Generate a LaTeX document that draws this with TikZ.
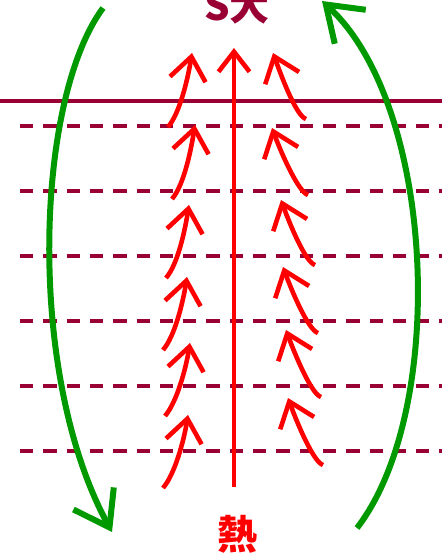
\documentclass[tikz,border=0pt]{standalone}
\usepackage{fontspec}
\newfontfamily\cjk{Noto Sans CJK JP}
\usetikzlibrary{arrows.meta}
\definecolor{layer}{RGB}{153,0,51}
\definecolor{loopgreen}{RGB}{0,153,0}
\tikzset{
  surface/.style={layer, line width=3.5pt},
  level/.style={layer, line width=3.3pt, dash pattern=on 13.3pt off 10pt},
  rise/.style={red, line width=4.6pt, -{Straight Barb[length=23pt,width=36pt]}},
  flow/.style={loopgreen, line width=6pt, -{Straight Barb[length=33pt,width=46pt]}},
  label/.style={inner sep=0pt, font=\cjk\bfseries\fontsize{40}{48}\selectfont}
}

\begin{document}
\begin{tikzpicture}[x=1pt, y=-1pt]
        \useasboundingbox (0,0) rectangle (442,556);

        \draw[surface] (0,101) -- (442,101);
        \draw[level] (20,126) -- (442,126);
        \draw[level] (20,191) -- (442,191);
        \draw[level] (20,256) -- (442,256);
        \draw[level] (20,321) -- (442,321);
        \draw[level] (20,386) -- (442,386);
        \draw[level] (20,451) -- (442,451);

        \node[label, layer, anchor=base] (entropy) at (237,21) {S大};
        \node[label, red] (heat) at (237.5,534) {熱};

        \coordinate (bottom) at (234,487);
        \coordinate (top) at (234,48);
        \draw[rise, -{Straight Barb[length=20pt,width=31pt]}] (bottom) -- (top);

        \draw[rise] (168,127) .. controls +(12,-14) and +(-4,25) .. (192,53);
        \draw[rise] (172,199) .. controls +(12,-14) and +(-4,25) .. (195,125);
        \draw[rise] (166,278) .. controls +(12,-14) and +(-4,25) .. (189,205);
        \draw[rise] (163,350) .. controls +(12,-14) and +(-4,25) .. (187,277);
        \draw[rise] (165,416) .. controls +(12,-14) and +(-4,25) .. (190,343);
        \draw[rise] (163,488) .. controls +(12,-14) and +(-4,25) .. (188,415);

        \draw[rise] (306,119) .. controls +(-10,-3) and +(8,22) .. (273,53);
        \draw[rise] (308,195) .. controls +(-10,-3) and +(8,22) .. (272,128);
        \draw[rise] (315,265) .. controls +(-10,-3) and +(8,22) .. (281,200);
        \draw[rise] (318,333) .. controls +(-10,-3) and +(8,22) .. (283,267);
        \draw[rise] (321,397) .. controls +(-10,-3) and +(8,22) .. (286,330);
        \draw[rise] (323,465) .. controls +(-10,-3) and +(8,22) .. (288,398);

        \draw[flow] (103,8) .. controls (35,100) and (26,375) .. (112,532);
        \draw[flow] (357,528) .. controls (448,410) and (436,105) .. (322,1);
      \end{tikzpicture}
\end{document}
